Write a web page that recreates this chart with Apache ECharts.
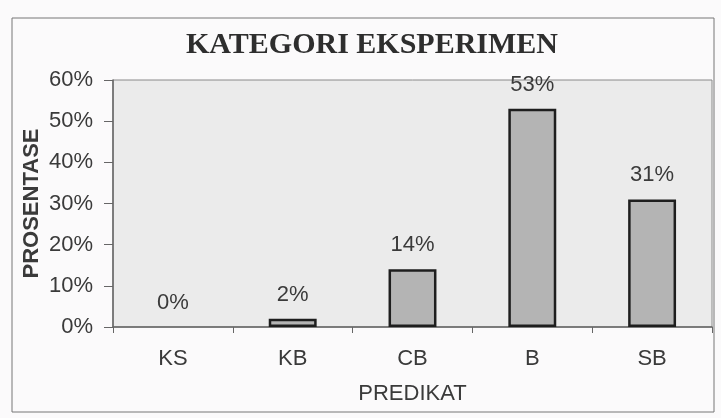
<!DOCTYPE html>
<html>
<head>
<meta charset="utf-8">
<script src="https://cdn.jsdelivr.net/npm/echarts@6/dist/echarts.min.js"></script>
<style>
  html, body { margin: 0; padding: 0; background: #fbfafb; }
  #chart { width: 721px; height: 418px; }
</style>
</head>
<body>
<div id="chart"></div>
<script>
// kategori predikat dan prosentase
const categories = ['KS', 'KB', 'CB', 'B', 'SB']
const values = [0, 2, 14, 53, 31]
const yTicks = [0, 10, 20, 30, 40, 50, 60]

const chart = echarts.init(document.getElementById('chart'))

// bar nol tidak digambar garis tepinya
const barData = values.map(v => ({
  value: v,
  itemStyle: v === 0 ? { borderWidth: 0, color: 'rgba(0,0,0,0)' } : undefined,
}))

const option = {
  animation: false,
  backgroundColor: '#fbfafb',
  title: {
    text: 'KATEGORI EKSPERIMEN',
    left: 367,
    top: 25,
    textAlign: 'center',
    textStyle: {
      fontFamily: 'Liberation Serif',
      fontWeight: 'bold',
      fontSize: 30,
      color: '#2e2e2e',
    },
  },
  graphic: [
    {
      type: 'rect',
      shape: { x: 12, y: 18, width: 702, height: 394 },
      style: { fill: 'none', stroke: '#777', lineWidth: 1 },
      silent: true,
    },
  ],
  grid: {
    left: 113,
    right: 9,
    top: 80,
    bottom: 91,
    show: true,
    backgroundColor: '#ebebeb',
    borderColor: '#8a8a8a',
    borderWidth: 1,
  },
  xAxis: {
    type: 'category',
    data: categories,
    name: 'PREDIKAT',
    nameLocation: 'middle',
    nameGap: 56,
    nameTextStyle: {
      fontFamily: 'Liberation Sans',
      fontSize: 22,
      color: '#3a3a3a',
    },
    axisLine: { lineStyle: { color: '#666', width: 1.5 } },
    axisTick: { show: true, length: 6, lineStyle: { color: '#666' } },
    axisLabel: {
      margin: 21,
      fontFamily: 'Liberation Sans',
      fontSize: 22,
      color: '#3a3a3a',
    },
  },
  yAxis: {
    type: 'value',
    min: yTicks[0],
    max: yTicks[yTicks.length - 1],
    interval: 10,
    name: 'PROSENTASE',
    nameLocation: 'middle',
    nameGap: 70,
    nameMoveOverlap: false,
    nameRotate: 90,
    nameTextStyle: {
      fontFamily: 'Liberation Sans',
      fontSize: 22,
      fontWeight: 'bold',
      color: '#3a3a3a',
    },
    axisLine: { show: true, lineStyle: { color: '#666', width: 1.5 } },
    axisTick: { show: true, length: 9, lineStyle: { color: '#666' } },
    splitLine: { show: false },
    axisLabel: {
      margin: 20,
      fontFamily: 'Liberation Sans',
      fontSize: 22,
      color: '#3a3a3a',
      formatter: '{value}%',
    },
  },
  series: [
    {
      type: 'bar',
      data: barData,
      barWidth: '40%',
      itemStyle: {
        color: '#b4b4b4',
        borderColor: '#1e1e1e',
        borderWidth: 2.5,
      },
      label: {
        show: true,
        position: 'top',
        distance: 13,
        fontFamily: 'Liberation Sans',
        fontSize: 22,
        color: '#3a3a3a',
        formatter: '{c}%',
      },
    },
  ],
}

chart.setOption(option)
</script>
</body>
</html>
